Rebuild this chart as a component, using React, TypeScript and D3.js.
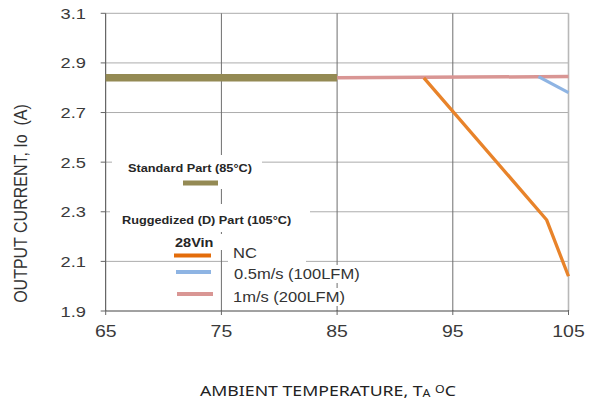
import React from "react";
import * as d3 from "d3";

const xTicks = [65, 75, 85, 95, 105];
const yTicks = [1.9, 2.1, 2.3, 2.5, 2.7, 2.9, 3.1];

const standardT = [65, 85];
const standardI = [2.84, 2.84];
const ncT = [92.5, 103.1, 105];
const ncI = [2.84, 2.268, 2.04];
const lfm100T = [102.4, 105];
const lfm100I = [2.845, 2.78];
const lfm200T = [85, 105];
const lfm200I = [2.84, 2.845];

const W = 597;
const H = 409;
const SX = 1.18;
const FONT = "'Liberation Sans', Arial, sans-serif";

const x = d3.scaleLinear().domain([65, 105]).range([105.7, 568.5]);
const y = d3.scaleLinear().domain([1.9, 3.1]).range([311, 13.3]);

function pts(t: number[], v: number[]): [number, number][] {
  return t.map((d, i) => [d, v[i]] as [number, number]);
}

const line = d3
  .line<[number, number]>()
  .x((d) => x(d[0]))
  .y((d) => y(d[1]));

function SText(props: {
  x: number;
  y: number;
  size: number;
  anchor?: string;
  weight?: string | number;
  fill?: string;
  family?: string;
  rotate?: number;
  spacing?: number;
  children: React.ReactNode;
}) {
  const { rotate = 0 } = props;
  return (
    <g transform={`translate(${props.x},${props.y}) scale(${SX},1) rotate(${rotate})`}>
      <text
        fontFamily={props.family || FONT}
        fontSize={props.size}
        fontWeight={props.weight || "normal"}
        textAnchor={props.anchor || "start"}
        fill={props.fill || "#333"}
        letterSpacing={props.spacing || 0}
        style={{ whiteSpace: "pre" }}
      >
        {props.children}
      </text>
    </g>
  );
}

export default function App() {
  const hGrid = "#acacac";
  const vGrid = "#6e6e6e";
  return (
    <svg width={W} height={H} style={{ position: "absolute", left: 0, top: 0, background: "#fff" }}>
      <rect x={0} y={0} width={W} height={H} fill="#fff" />
      {/* horizontal grid */}
      {yTicks.slice(1).map((t) => (
        <line key={"h" + t} x1={x(65)} x2={x(105)} y1={y(t)} y2={y(t)} stroke={hGrid} strokeWidth={1} />
      ))}
      {/* vertical grid */}
      {xTicks.slice(1, 4).map((t) => (
        <line key={"v" + t} x1={x(t)} x2={x(t)} y1={y(3.1)} y2={y(1.9)} stroke={vGrid} strokeWidth={1} />
      ))}
      <line x1={x(105)} x2={x(105)} y1={y(3.1)} y2={y(1.9)} stroke="#b8b8b8" strokeWidth={1.6} />
      {/* axes */}
      <line x1={x(65)} x2={x(65)} y1={y(3.1)} y2={y(1.9)} stroke="#444" strokeWidth={1} />
      <line x1={x(65)} x2={x(105)} y1={y(1.9)} y2={y(1.9)} stroke="#444" strokeWidth={1} />
      {yTicks.map((t) => (
        <line key={"yt" + t} x1={x(65) - 5} x2={x(65)} y1={y(t)} y2={y(t)} stroke="#666" strokeWidth={1} />
      ))}
      {xTicks.map((t) => (
        <line key={"xt" + t} x1={x(t)} x2={x(t)} y1={y(1.9) - 1} y2={y(1.9) + 4} stroke="#666" strokeWidth={1} />
      ))}
      {/* tick labels */}
      {yTicks.map((t) => (
        <SText key={"yl" + t} x={86} y={y(t) + 5.5} size={15.5} anchor="end" fill="#3a3a3a">
          {t.toFixed(1)}
        </SText>
      ))}
      {xTicks.map((t) => (
        <SText key={"xl" + t} x={x(t)} y={337} size={16.5} anchor="middle" fill="#3a3a3a">
          {String(t)}
        </SText>
      ))}

      {/* legend masks */}
      <rect x={112} y={155} width={150} height={34} fill="#fff" />
      <rect x={110} y={204} width={200} height={28} fill="#fff" />
      <rect x={170} y={234} width={52} height={16} fill="#fff" />
      <rect x={228} y={249} width={78} height={16} fill="#fff" />
      <rect x={230} y={265} width={128} height={18} fill="#fff" />
      <rect x={230} y={288} width={114} height={18} fill="#fff" />

      {/* data lines */}
      <path d={line(pts(standardT, standardI)) || ""} fill="none" stroke="#948a54" strokeWidth={7.5} />
      <path d={line(pts(lfm200T, lfm200I)) || ""} fill="none" stroke="#d99694" strokeWidth={3.5} />
      <path d={line(pts(lfm100T, lfm100I)) || ""} fill="none" stroke="#8eb4e3" strokeWidth={3.2} />
      <path d={line(pts(ncT, ncI)) || ""} fill="none" stroke="#e8832a" strokeWidth={3.3} strokeLinejoin="round" />

      {/* legend */}
      <SText x={128} y={172} size={10.8} weight="bold" fill="#262626">
        Standard Part (85°C)
      </SText>
      <line x1={183} x2={218} y1={183} y2={183} stroke="#948a54" strokeWidth={5} />
      <SText x={122} y={224} size={10.8} weight="bold" fill="#262626">
        Ruggedized (D) Part (105°C)
      </SText>
      <SText x={175} y={247} size={12.3} weight="bold" fill="#262626">
        28Vin
      </SText>
      <line x1={174} x2={211} y1={255.5} y2={255.5} stroke="#e36c0a" strokeWidth={4} />
      <SText x={233} y={258} size={14} fill="#333">
        NC
      </SText>
      <line x1={176} x2={211} y1={272} y2={272} stroke="#8eb4e3" strokeWidth={4} />
      <SText x={234} y={278.5} size={14} fill="#333">
        0.5m/s (100LFM)
      </SText>
      <line x1={177} x2={213} y1={294} y2={294} stroke="#d99694" strokeWidth={4} />
      <SText x={233} y={301.5} size={14} fill="#333">
        1m/s (200LFM)
      </SText>

      {/* axis titles */}
      <SText x={27} y={203.5} size={16} anchor="middle" rotate={-90} fill="#333">
        {"OUTPUT CURRENT, Io  (A)"}
      </SText>
      <SText x={200} y={395.5} size={15} family="'Noto Sans', sans-serif" fill="#222">
        AMBIENT TEMPERATURE, T
        <tspan fontSize={10.5} dy={1.5}>A</tspan>
        <tspan dy={-1.5}> </tspan>
        <tspan fontSize={10.5} dy={-3}>O</tspan>
        <tspan dy={3}>C</tspan>
      </SText>
    </svg>
  );
}
